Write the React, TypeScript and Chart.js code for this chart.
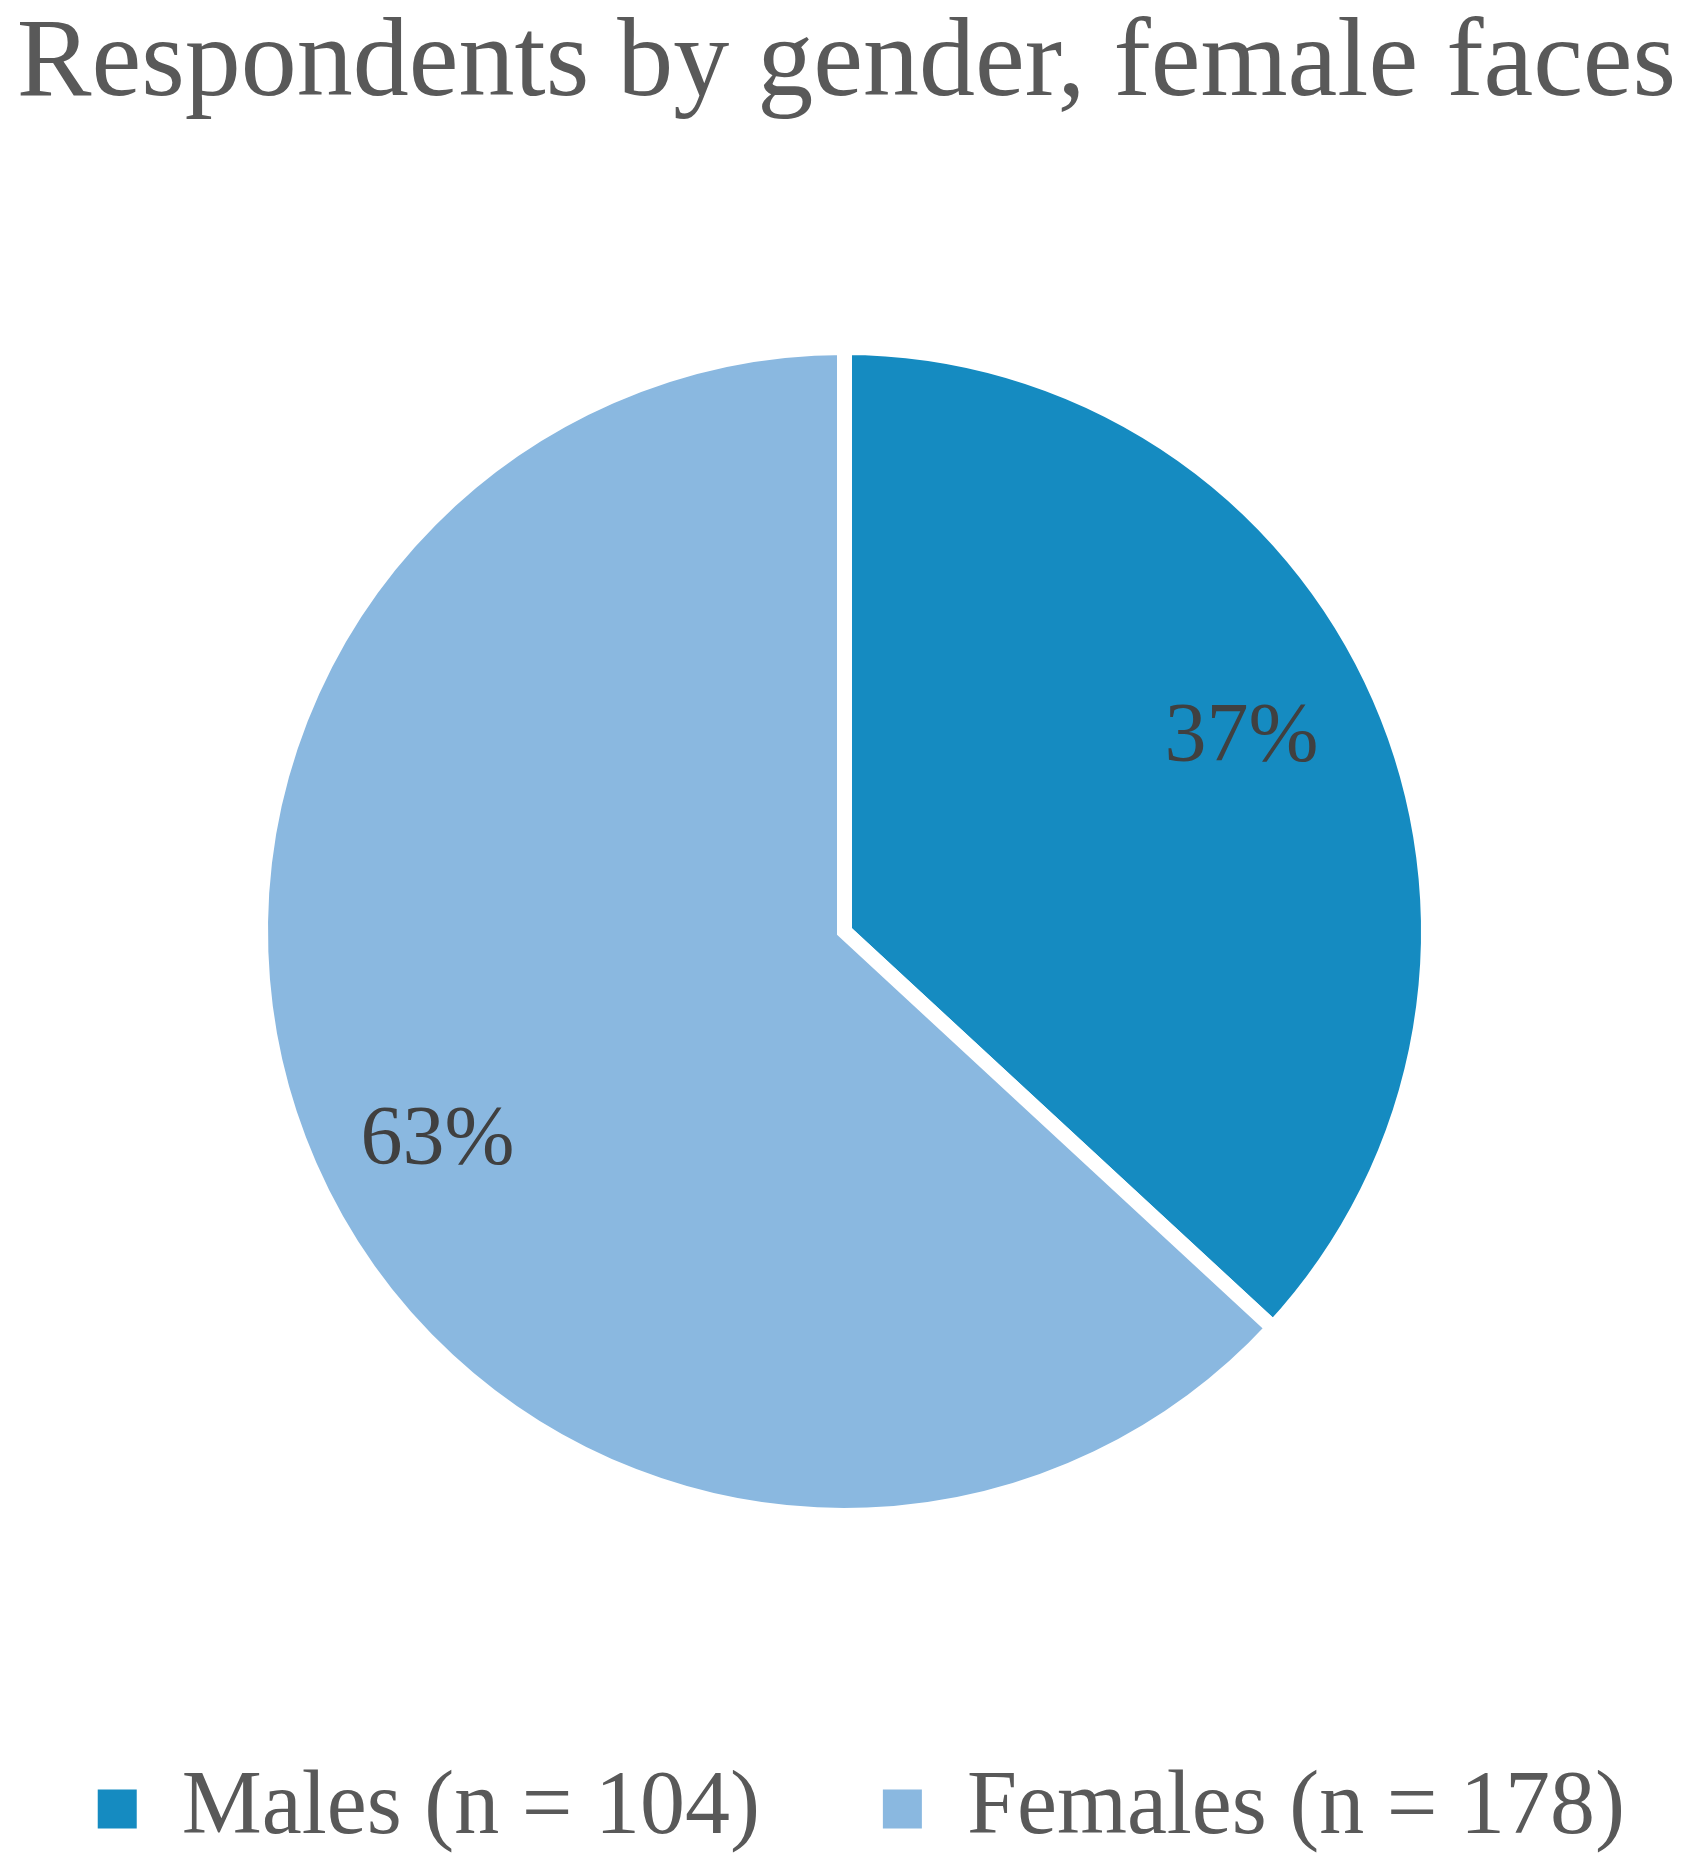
import React, { useEffect, useRef } from "react";
import { Chart, registerables } from "chart.js";

Chart.register(...registerables);

const TITLE = "Respondents by gender, female faces";
const categories = ["Males", "Females"];
const counts = [104, 178];
const sliceColors = ["#158BC1", "#8AB8E0"];

const LABEL_RADIUS_FRAC = 0.77;
const LABEL_ANGLE_SHIFT_DEG = -3;
const LABEL_DY = 9;
const LABEL_DX = -5;

const percentLabels = {
  id: "percentLabels",
  afterDatasetsDraw(chart: any) {
    const ctx = chart.ctx;
    const meta = chart.getDatasetMeta(0);
    const data = chart.data.datasets[0].data as number[];
    const total = data.reduce((a, b) => a + b, 0);
    ctx.save();
    ctx.font = '84px "Liberation Serif", serif';
    ctx.fillStyle = "#404040";
    ctx.textAlign = "center";
    ctx.textBaseline = "middle";
    meta.data.forEach((arc: any, i: number) => {
      const p = arc.getProps(["x", "y", "startAngle", "endAngle", "outerRadius"], true);
      const mid = (p.startAngle + p.endAngle) / 2 + (LABEL_ANGLE_SHIFT_DEG * Math.PI) / 180;
      const r = p.outerRadius * LABEL_RADIUS_FRAC;
      const pct = Math.round((data[i] / total) * 100) + "%";
      ctx.fillText(pct, p.x + Math.cos(mid) * r + LABEL_DX, p.y + Math.sin(mid) * r + LABEL_DY);
    });
    ctx.restore();
  },
};

export default function App() {
  const ref = useRef<HTMLCanvasElement | null>(null);
  useEffect(() => {
    document.body.style.margin = "0";
    const canvas = ref.current!;
    const chart = new Chart(canvas, {
      type: "pie",
      data: {
        labels: categories.map((c, i) => `${c} (n = ${counts[i]})`),
        datasets: [
          {
            data: counts,
            backgroundColor: sliceColors,
            borderColor: "#ffffff",
            borderWidth: 15,
            borderJoinStyle: "miter",
          } as any,
        ],
      },
      options: {
        responsive: false,
        animation: false,
        devicePixelRatio: 1,
        radius: 584,
        layout: { padding: { left: -55, right: -59, top: 0, bottom: 11 } },
        plugins: {
          title: {
            display: true,
            text: TITLE,
            color: "#595959",
            font: { family: '"Liberation Serif", serif', size: 112, weight: "normal", lineHeight: 1 },
            padding: { top: 10, bottom: 100 },
          },
          legend: {
            display: true,
            position: "bottom",
            align: "end",
            labels: {
              boxWidth: 39,
              boxHeight: 39,
              padding: 123,
              color: "#595959",
              font: { family: '"Liberation Serif", serif', size: 90 },
              generateLabels: (ch: any) => {
                const items = (Chart as any).overrides.pie.plugins.legend.labels.generateLabels(ch);
                return items.map((it: any) => ({ ...it, lineWidth: 0, strokeStyle: "rgba(0,0,0,0)" }));
              },
            },
          },
          tooltip: { enabled: false },
        },
      } as any,
      plugins: [percentLabels],
    });
    return () => chart.destroy();
  }, []);
  return (
    <div style={{ position: "absolute", left: 0, top: 0, width: 1689, height: 1875, background: "#fff" }}>
      <canvas ref={ref} width={1689} height={1875} style={{ width: 1689, height: 1875, display: "block" }} />
    </div>
  );
}
